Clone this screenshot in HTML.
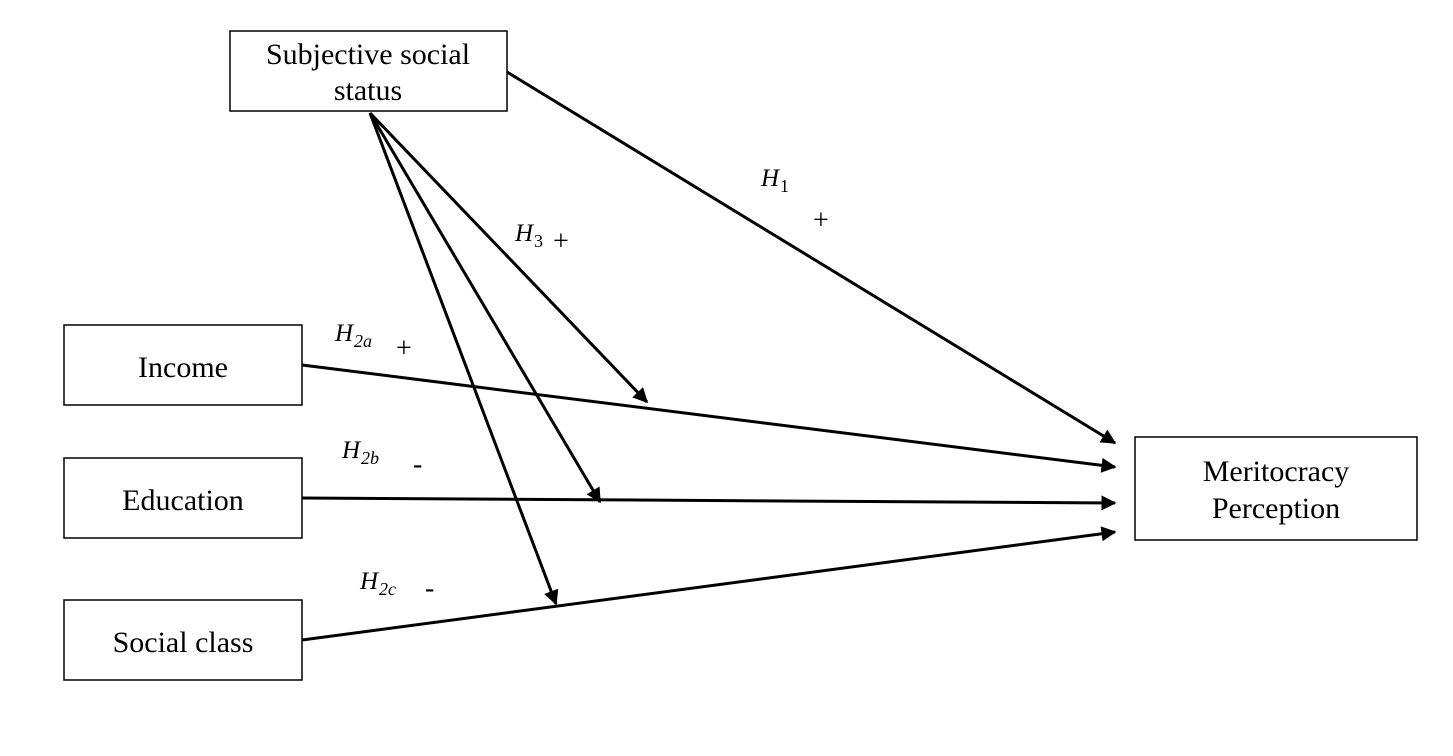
<!DOCTYPE html>
<html><head><meta charset="utf-8"><style>
html,body{margin:0;padding:0;background:#fff;}
svg{display:block;font-family:"Liberation Serif",serif;}
.box{fill:#fff;stroke:#000;stroke-width:1.5;}
.ln{stroke:#000;stroke-width:3;fill:none;}
.bt{font-size:30px;text-anchor:middle;}
.h{font-size:25px;font-style:italic;}
.s{font-size:18px;font-style:italic;}
.su{font-size:18px;}
.sg{font-size:28px;}
</style></head><body>
<svg width="1453" height="756" viewBox="0 0 1453 756">
<defs><marker id="ah" viewBox="0 0 10 10" refX="9" refY="5" markerWidth="5.5" markerHeight="5" orient="auto" markerUnits="strokeWidth"><path d="M0,0 L10,5 L0,10 z" fill="#000"/></marker></defs>

<g><line class="ln" x1="507" y1="72" x2="1115" y2="443" marker-end="url(#ah)"/></g>
<g><line class="ln" x1="370" y1="113" x2="647" y2="402" marker-end="url(#ah)"/></g>
<g><line class="ln" x1="370" y1="113" x2="600" y2="502" marker-end="url(#ah)"/></g>
<g><line class="ln" x1="370" y1="113" x2="556" y2="604" marker-end="url(#ah)"/></g>
<g><line class="ln" x1="302" y1="365" x2="1115" y2="467" marker-end="url(#ah)"/></g>
<g><line class="ln" x1="302" y1="498" x2="1115" y2="503" marker-end="url(#ah)"/></g>
<g><line class="ln" x1="302" y1="640" x2="1115" y2="532" marker-end="url(#ah)"/></g>

<g><rect class="box" x="230" y="31" width="277" height="80"/><text class="bt" x="368" y="64">Subjective social</text><text class="bt" x="368" y="100">status</text></g>
<g><rect class="box" x="64" y="325" width="238" height="80"/><text class="bt" x="183" y="377">Income</text></g>
<g><rect class="box" x="64" y="458" width="238" height="80"/><text class="bt" x="183" y="510">Education</text></g>
<g><rect class="box" x="64" y="600" width="238" height="80"/><text class="bt" x="183" y="652">Social class</text></g>
<g><rect class="box" x="1135" y="437" width="282" height="103"/><text class="bt" x="1276" y="481">Meritocracy</text><text class="bt" x="1276" y="518">Perception</text></g>

<g><text class="h" x="761" y="186">H</text><text class="su" x="780" y="192">1</text><text class="sg" x="813" y="229">+</text></g>
<g><text class="h" x="515" y="241">H</text><text class="su" x="534" y="247">3</text><text class="sg" x="553" y="250">+</text></g>
<g><text class="h" x="335" y="341">H</text><text class="s" x="354" y="347">2a</text><text class="sg" x="396" y="357">+</text></g>
<g><text class="h" x="342" y="458">H</text><text class="s" x="361" y="464">2b</text><text class="sg" x="413" y="473">-</text></g>
<g><text class="h" x="360" y="589">H</text><text class="s" x="379" y="595">2c</text><text class="sg" x="425" y="597">-</text></g>
</svg>
</body></html>
